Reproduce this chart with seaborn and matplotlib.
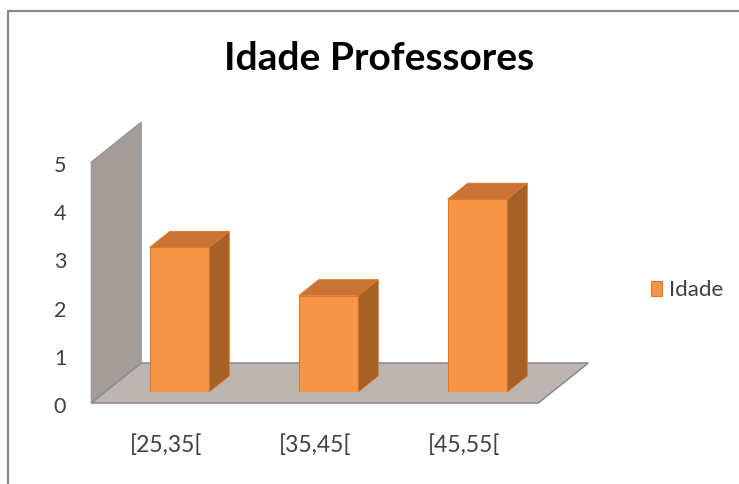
import numpy as np
import pandas as pd
import matplotlib
matplotlib.use("Agg")
import matplotlib.pyplot as plt
import seaborn as sns
from matplotlib.patches import Polygon, Patch
from matplotlib.lines import Line2D
from matplotlib.transforms import IdentityTransform

# ---- data ----
categories = ["[25,35[", "[35,45[", "[45,55["]
values = [3, 2, 4]
series_name = "Idade"
y_ticks = [0, 1, 2, 3, 4, 5]
title = "Idade Professores"

sns.set_theme(style="white")
plt.rcParams["font.family"] = ["Lato", "DejaVu Sans"]

W, H = 739, 484
fig = plt.figure(figsize=(W / 100, H / 100), dpi=100)
fig.patch.set_facecolor("white")
ax = fig.add_axes([105 / W, 92 / H, 447 / W, 241 / H])

FRONT = "#F79646"
TOP = "#C97434"
SIDE = "#A66127"
EDGE = "#E0782E"

df = pd.DataFrame({"cat": categories, "val": values})
sns.barplot(data=df, x="cat", y="val", color=FRONT, saturation=1, width=0.4,
            edgecolor=EDGE, linewidth=0.8, ax=ax, zorder=5)
bars = list(ax.patches)
ax.set_xlim(-0.5, len(categories) - 0.5)
ax.set_ylim(y_ticks[0], y_ticks[-1])
ax.axis("off")

fig.canvas.draw()
T = ax.transData
ident = IdentityTransform()

front_off = np.array([-13.75, -11.0])   # bar plane -> front plane (px)
depth = np.array([50.0, 40.0])          # full floor depth (px)
bar_d = np.array([20.0, 16.0])          # bar depth (px)

x0, x1 = ax.get_xlim()
y0, y1 = ax.get_ylim()

def P(x, y, off=(0, 0)):
    return T.transform((x, y)) + np.asarray(off)

fl = front_off
bk = front_off + depth
# back wall
wall = Polygon([P(x0, y0, fl), P(x0, y1, fl), P(x0, y1, bk), P(x0, y0, bk)],
               closed=True, transform=ident, facecolor="#A39C98",
               edgecolor="#9A9491", linewidth=0.8, zorder=1, clip_on=False)
ax.add_artist(wall)
# floor
floor = Polygon([P(x0, y0, fl), P(x1, y0, fl), P(x1, y0, bk), P(x0, y0, bk)],
                closed=True, transform=ident, facecolor="#BDB5B2",
                edgecolor="#8E8E8E", linewidth=1.2, zorder=2, clip_on=False)
ax.add_artist(floor)

# 3D faces of each bar
for p in bars:
    bx, by = p.get_x(), p.get_y()
    bw, bh = p.get_width(), p.get_height()
    tl, tr, br = P(bx, by + bh), P(bx + bw, by + bh), P(bx + bw, by)
    top = Polygon([tl, tr, tr + bar_d, tl + bar_d], closed=True, transform=ident,
                  facecolor=TOP, edgecolor=EDGE, linewidth=0.6, zorder=6, clip_on=False)
    side = Polygon([br, tr, tr + bar_d, br + bar_d], closed=True, transform=ident,
                   facecolor=SIDE, edgecolor=EDGE, linewidth=0.6, zorder=6, clip_on=False)
    ax.add_artist(top)
    ax.add_artist(side)

# y tick labels (front plane)
for v in y_ticks:
    px = P(x0, v, fl)
    ax.text(px[0] - 25, px[1] - 4, str(v), transform=ident, ha="right", va="center",
            fontsize=15.5, color="#404040")

# category labels (front plane)
for i, c in enumerate(categories):
    px = P(i, y0, fl)
    ax.text(px[0], px[1] - 42, c, transform=ident, ha="center", va="center",
            fontsize=16.5, color="#404040")

# title
fig.text(379 / W, 1 - 58 / H, title, ha="center", va="center",
         fontsize=28, fontweight="bold", color="black")

# legend
handle = Patch(facecolor=FRONT, edgecolor=EDGE, linewidth=0.8, label=series_name)
fig.legend(handles=[handle], loc="center left", bbox_to_anchor=(651 / W, 1 - 290 / H),
           bbox_transform=fig.transFigure, frameon=False, fontsize=16,
           handlelength=0.5, handleheight=0.65, handletextpad=0.3,
           borderpad=0, borderaxespad=0, labelcolor="#404040")

# chart-area border (top and left visible)
fig.add_artist(Line2D([8 / W, 8 / W], [0, 1 - 11 / H], transform=fig.transFigure,
                      color="#8A8A8A", linewidth=1.6))
fig.add_artist(Line2D([8 / W, 1], [1 - 11 / H, 1 - 11 / H], transform=fig.transFigure,
                      color="#8A8A8A", linewidth=1.6))

fig.savefig("out.png", dpi=100, facecolor="white")
